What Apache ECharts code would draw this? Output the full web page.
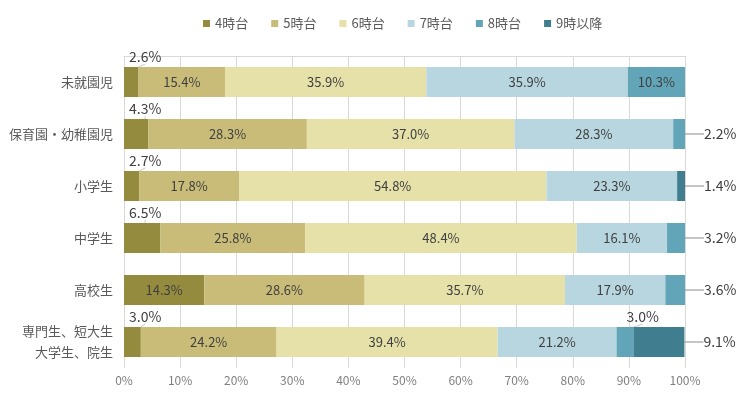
<!DOCTYPE html>
<html><head><meta charset="utf-8">
<script src="https://cdn.jsdelivr.net/npm/echarts@6/dist/echarts.min.js"></script>
<style>html,body{margin:0;padding:0;background:#fff}#c{width:750px;height:399px}</style>
</head><body><div id="c"></div>
<script>
const categories = ['未就園児','保育園・幼稚園児','小学生','中学生','高校生','専門生、短大生\n大学生、院生'];
const seriesNames = ['4時台','5時台','6時台','7時台','8時台','9時以降'];
const h4 = [2.6, 4.3, 2.7, 6.5, 14.3, 3.0];
const h5 = [15.4, 28.3, 17.8, 25.8, 28.6, 24.2];
const h6 = [35.9, 37.0, 54.8, 48.4, 35.7, 39.4];
const h7 = [35.9, 28.3, 23.3, 16.1, 17.9, 21.2];
const h8 = [10.3, 2.2, 0, 3.2, 3.6, 3.0];
const h9 = [0, 0, 1.4, 0, 0, 9.1];
const xTicks = [0,10,20,30,40,50,60,70,80,90,100];

const colors = ['#958b3e','#c9bc79','#e6e0a9','#b8d6df','#62a5b8','#3f7d8f'];
const all = [h4,h5,h6,h7,h8,h9];
const FONT = '"Noto Sans CJK JP", sans-serif';

function lastNonZero(row){ let k=-1; for(let s=0;s<all.length;s++){ if(all[s][row]>0) k=s; } return k; }
function placement(s, i){
  const v = all[s][i];
  if (!(v > 0)) return 'none';
  if (v >= 10) return 'inside';
  if (s === lastNonZero(i)) return 'right';
  return 'above';
}

const series = all.map((arr, s) => ({
  name: seriesNames[s],
  type: 'bar',
  stack: 'total',
  barWidth: 30,
  itemStyle: {color: colors[s]},
  emphasis: {disabled: true},
  label: {show: true, position: 'inside', color: '#404040', fontSize: 13, fontFamily: FONT,
          formatter: p => p.value.toFixed(1) + '%'},
  labelLayout: function (p) {
    const pl = placement(p.seriesIndex, p.dataIndex);
    const r = p.rect, l = p.labelRect;
    if (pl === 'right') {
      return {labelLinePoints: [[r.x + r.width, r.y + r.height / 2], [l.x - 3, l.y + l.height / 2 - 2]]};
    }
    if (pl === 'above') {
      return {labelLinePoints: [[l.x + 9, l.y + l.height], [r.x + r.width * 0.15, r.y + r.height]]};
    }
    return {};
  },
  data: arr.map((v, i) => {
    const pl = placement(s, i);
    if (pl === 'none') return {value: v, label: {show: false}};
    if (pl === 'inside') return {value: v};
    if (pl === 'right') {
      return {value: v, label: {position: 'right', distance: 19, fontSize: 14},
              labelLine: {show: true, lineStyle: {color: '#8c8c8c', width: 1}}};
    }
    return {value: v, label: {position: s === 0 ? [5, -17] : [10, -17], align: 'left', verticalAlign: 'top', fontSize: 14},
            labelLine: {show: true, lineStyle: {color: '#c8c8c8', width: 1}}};
  })
}));

const chart = echarts.init(document.getElementById('c'));
chart.setOption({
  animation: false,
  textStyle: {fontFamily: FONT},
  color: colors,
  legend: {
    top: 12, left: 198, itemWidth: 7, itemHeight: 7, itemGap: 23,
    icon: 'rect',
    textStyle: {color: '#595959', fontSize: 13, fontFamily: FONT},
    data: seriesNames
  },
  grid: {left: 124, right: 65, top: 56, bottom: 31, containLabel: false},
  xAxis: [{
    type: 'value', min: 0, max: 100, interval: 10,
    axisLine: {show: false}, axisTick: {show: false},
    splitLine: {lineStyle: {color: '#d9d9d9'}},
    axisLabel: {color: '#7f7f7f', fontSize: 12, margin: 6, fontFamily: FONT,
                formatter: v => xTicks.includes(v) ? v + '%' : ''}
  }, {
    type: 'value', position: 'top', min: 0, max: 100, interval: 10,
    axisLine: {show: true, lineStyle: {color: '#d9d9d9'}}, axisTick: {show: false},
    axisLabel: {show: false}, splitLine: {show: false}
  }],
  yAxis: {
    type: 'category', inverse: true, data: categories,
    axisLine: {show: true, lineStyle: {color: '#d9d9d9'}},
    axisTick: {show: false},
    axisLabel: {color: '#595959', fontSize: 13, margin: 11, lineHeight: 21, fontFamily: FONT}
  },
  series: series
});
</script></body></html>
